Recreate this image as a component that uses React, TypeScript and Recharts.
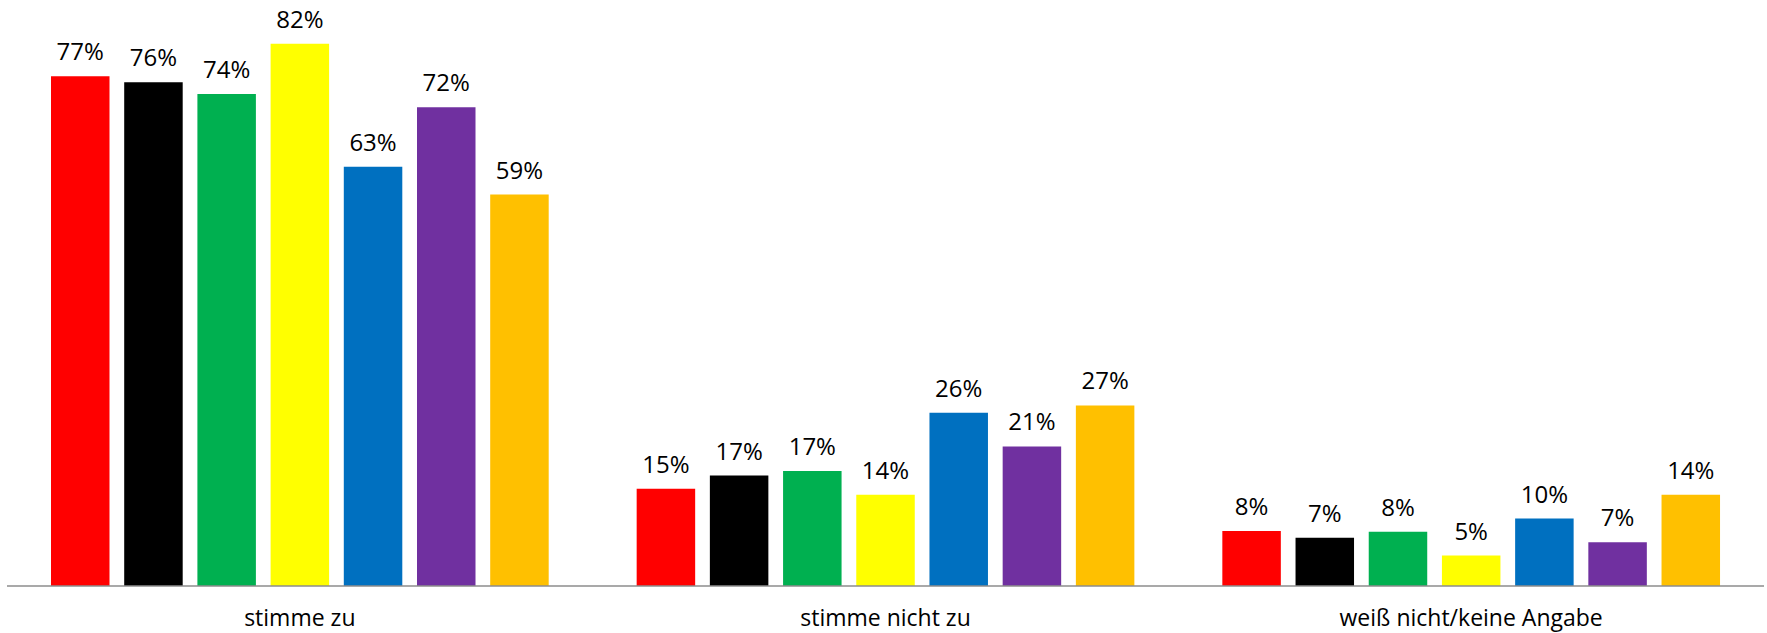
import React from "react";
import { BarChart, Bar, XAxis, YAxis, LabelList } from "recharts";

const categories = ["stimme zu", "stimme nicht zu", "weiß nicht/keine Angabe"];
const seriesNames = ["s1", "s2", "s3", "s4", "s5", "s6", "s7"];
const seriesColors = ["#FF0000", "#000000", "#00B050", "#FFFF00", "#0070C0", "#7030A0", "#FFC000"];
const s1 = [77.1, 14.7, 8.3];
const s2 = [76.2, 16.7, 7.3];
const s3 = [74.4, 17.4, 8.2];
const s4 = [82, 13.8, 4.6];
const s5 = [63.4, 26.2, 10.2];
const s6 = [72.4, 21.1, 6.6];
const s7 = [59.2, 27.3, 13.8];
const seriesValues = [s1, s2, s3, s4, s5, s6, s7];

const data = categories.map((c, i) => {
  const row: Record<string, string | number> = { name: c };
  seriesNames.forEach((s, j) => {
    row[s] = seriesValues[j][i];
  });
  return row;
});

const FONT = "'Open Sans', sans-serif";

export default function App() {
  return (
    <div style={{ position: "absolute", left: 0, top: 0, background: "#fff" }}>
      <BarChart
        width={1767}
        height={633}
        data={data}
        margin={{ top: 24, right: 3, left: 7, bottom: 0 }}
        barSize={58.5}
        barGap={14.7}
      >
        <XAxis
          dataKey="name"
          height={47}
          axisLine={{ stroke: "#8c8c8c", strokeWidth: 1.5 }}
          tickLine={false}
          tickMargin={18}
          tick={{ fill: "#000", fontSize: 23, fontFamily: FONT }}
        />
        <YAxis hide domain={[0, 85]} />
        {seriesNames.map((s, j) => (
          <Bar key={s} dataKey={s} fill={seriesColors[j]} isAnimationActive={false}>
            <LabelList
              dataKey={s}
              position="top"
              offset={16}
              formatter={(v: number) => `${Math.round(v)}%`}
              style={{ fill: "#000", fontSize: 24, fontFamily: FONT }}
            />
          </Bar>
        ))}
      </BarChart>
    </div>
  );
}
